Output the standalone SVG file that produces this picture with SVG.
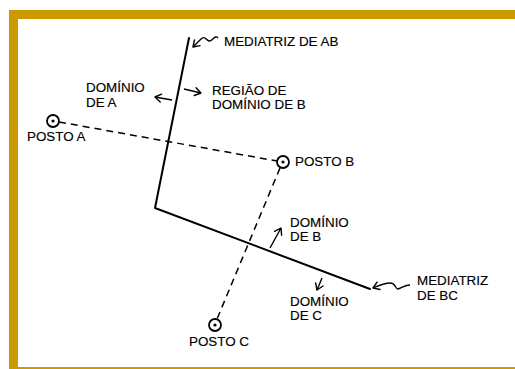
<svg xmlns="http://www.w3.org/2000/svg" width="515" height="369" viewBox="0 0 515 369">
<defs>
<style>
text{font-family:"Liberation Sans",Arial,sans-serif;font-size:13.4px;fill:#000;stroke:#000;stroke-width:0.15}
.solid{stroke:#000;stroke-width:2;fill:none;stroke-linecap:round;stroke-linejoin:round}
.dash{stroke:#000;stroke-width:1.5;fill:none;stroke-dasharray:7 5}
.arr{stroke:#000;stroke-width:1.4;fill:none;marker-end:url(#ah)}
.post{stroke:#000;stroke-width:1.8;fill:#fff}
</style>
<marker id="ah" markerWidth="10" markerHeight="10" refX="8" refY="5" orient="auto" markerUnits="userSpaceOnUse">
<path d="M2,1 L8,5 L2,9" fill="none" stroke="#000" stroke-width="1.4" stroke-linecap="round" stroke-linejoin="round"/>
</marker>
</defs>
<rect width="515" height="369" fill="#fff"/>
<g id="frame" fill="#cc9900">
<rect x="9" y="10" width="506" height="9"/>
<rect x="9" y="10" width="9" height="359"/>
<rect x="9" y="367" width="506" height="2"/>
</g>
<g id="connectors">
<path class="dash" d="M59,122 L277,161"/>
<path class="dash" d="M280,168 L217,319"/>
<path id="mediatriz-ab-line" class="solid" d="M189,38 L155,208 L370,289"/>
<path class="arr" d="M218,38 c-3,-4 -6,4 -9,3 c-3,-1 -4,-6 -8,-2 L193,47"/>
<path class="arr" d="M172,100 L155,97"/>
<path class="arr" d="M184,89 L201,93"/>
<path class="arr" d="M270,248 L281,228"/>
<path class="arr" d="M322,278 L317,290"/>
<path class="arr" d="M410,285 c-5,0 -8,3 -12,4 c-3,0 -2,-6 -8,-6 c-6,0 -12,3 -17,5"/>
</g>
<g id="posto-a">
<circle class="post" cx="53" cy="121" r="6"/>
<circle cx="53" cy="121" r="1.6" fill="#000"/>
<text x="27" y="141">POSTO A</text>
</g>
<g id="posto-b">
<circle class="post" cx="283" cy="162" r="6"/>
<circle cx="283" cy="162" r="1.6" fill="#000"/>
<text x="295" y="166">POSTO B</text>
</g>
<g id="posto-c">
<circle class="post" cx="215" cy="325" r="6"/>
<circle cx="215" cy="325" r="1.6" fill="#000"/>
<text x="189" y="346">POSTO C</text>
</g>
<g id="mediatriz-ab">
<text x="224" y="46">MEDIATRIZ DE AB</text>
</g>
<g id="dominio-a">
<text x="86" y="92">DOMÍNIO</text>
<text x="86" y="107">DE A</text>
</g>
<g id="regiao-dominio-b">
<text x="212" y="95">REGIÃO DE</text>
<text x="212" y="109">DOMÍNIO DE B</text>
</g>
<g id="dominio-b">
<text x="290" y="227">DOMÍNIO</text>
<text x="290" y="241">DE B</text>
</g>
<g id="dominio-c">
<text x="290" y="306">DOMÍNIO</text>
<text x="290" y="320">DE C</text>
</g>
<g id="mediatriz-bc">
<text x="417" y="285">MEDIATRIZ</text>
<text x="417" y="300">DE BC</text>
</g>
</svg>
